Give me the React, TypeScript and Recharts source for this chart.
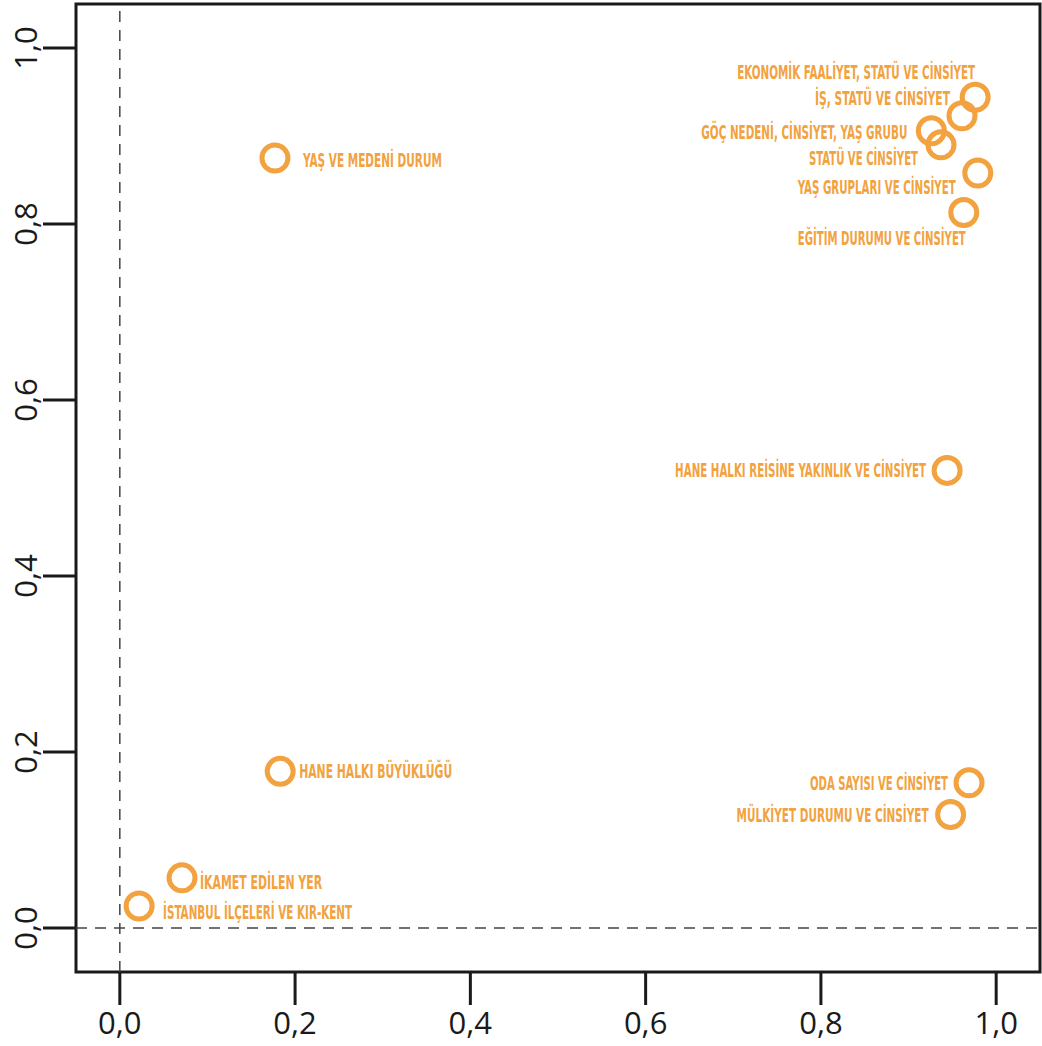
import { ReferenceArea, ReferenceLine, Scatter, ScatterChart, XAxis, YAxis } from 'recharts';

const names = [
  'EKONOMİK FAALİYET, STATÜ VE CİNSİYET',
  'İŞ, STATÜ VE CİNSİYET',
  'GÖÇ NEDENİ, CİNSİYET, YAŞ GRUBU',
  'STATÜ VE CİNSİYET',
  'YAŞ GRUPLARI VE CİNSİYET',
  'EĞİTİM DURUMU VE CİNSİYET',
  'HANE HALKI REİSİNE YAKINLIK VE CİNSİYET',
  'ODA SAYISI VE CİNSİYET',
  'MÜLKİYET DURUMU VE CİNSİYET',
  'YAŞ VE MEDENİ DURUM',
  'HANE HALKI BÜYÜKLÜĞÜ',
  'İKAMET EDİLEN YER',
  'İSTANBUL İLÇELERİ VE KIR-KENT',
];
const xValues = [0.976, 0.961, 0.926, 0.937, 0.979, 0.963, 0.944, 0.969, 0.948, 0.177, 0.183, 0.071, 0.022];
const yValues = [0.944, 0.923, 0.906, 0.890, 0.858, 0.813, 0.52, 0.165, 0.129, 0.875, 0.178, 0.057, 0.025];
const ticks = [0, 0.2, 0.4, 0.6, 0.8, 1.0];

// label placement around each circle (pixels): dx, dy, anchor, text width
const labelDx = [0, -12, -24, -23, -22, 2, -21, -21, -22, 28, 19, 18, 24];
const labelDy = [-25, -18, 1, 13, 14, 25, 0, 0, 1, 2, 0, 4, 6];
const labelEnd = [true, true, true, true, true, true, true, true, true, false, false, false, false];
const labelWidth = [238, 135, 206, 109, 158, 168, 251, 138, 192, 139, 153, 122, 189];

const ORANGE = '#F2A23F';
const INK = '#1a1a1a';
const fmt = (v: number) => v.toFixed(1).replace('.', ',');

const points = names.map((name, i) => ({ name, x: xValues[i], y: yValues[i], i }));

function Marker(props: any) {
  const { cx, cy, payload } = props;
  const i = payload.i;
  const end = labelEnd[i];
  return (
    <g>
      <circle cx={cx} cy={cy} r={13} fill="none" stroke={ORANGE} strokeWidth={5} />
      <text
        x={cx + labelDx[i]}
        y={cy + labelDy[i] + 7}
        textAnchor={end ? 'end' : 'start'}
        fontFamily="'Liberation Sans Narrow', 'DejaVu Sans Condensed', 'Open Sans', sans-serif"
        fontWeight={700}
        fontSize={19}
        fill={ORANGE}
        textLength={labelWidth[i]}
        lengthAdjust="spacingAndGlyphs"
      >
        {payload.name}
      </text>
    </g>
  );
}

function XTick(props: any) {
  const { x, y, payload } = props;
  return (
    <text x={x} y={y + 27} textAnchor="middle" fontFamily="'Open Sans', sans-serif" fontSize={31} fill={INK}>
      {fmt(payload.value)}
    </text>
  );
}

function YTick(props: any) {
  const { x, y, payload } = props;
  const bx = x - 4;
  return (
    <text
      x={bx}
      y={y}
      transform={`rotate(-90, ${bx}, ${y})`}
      textAnchor="middle"
      fontFamily="'Open Sans', sans-serif"
      fontSize={31}
      fill={INK}
    >
      {fmt(payload.value)}
    </text>
  );
}

export default function App() {
  return (
    <div style={{ position: 'absolute', left: 0, top: 0, background: '#fff' }}>
      <ScatterChart width={1042} height={1046} margin={{ top: 4, right: 2, left: 0, bottom: 0 }}>
        <XAxis
          type="number"
          dataKey="x"
          domain={[-0.05, 1.05]}
          ticks={ticks}
          allowDataOverflow
          axisLine={false}
          tickLine={{ stroke: INK, strokeWidth: 3 }}
          tickSize={33}
          height={74}
          tick={<XTick />}
        />
        <YAxis
          type="number"
          dataKey="y"
          domain={[-0.05, 1.05]}
          ticks={ticks}
          allowDataOverflow
          axisLine={false}
          tickLine={{ stroke: INK, strokeWidth: 3 }}
          tickSize={33}
          width={76}
          tick={<YTick />}
        />
        <ReferenceLine x={0} stroke="#444" strokeWidth={1.5} strokeDasharray="11 8" />
        <ReferenceLine y={0} stroke="#444" strokeWidth={1.5} strokeDasharray="11 8" />
        <ReferenceArea x1={-0.05} x2={1.05} y1={-0.05} y2={1.05} fill="none" stroke={INK} strokeWidth={3} ifOverflow="visible" />
        <Scatter data={points} isAnimationActive={false} shape={(p: any) => <Marker {...p} />} />
      </ScatterChart>
    </div>
  );
}
